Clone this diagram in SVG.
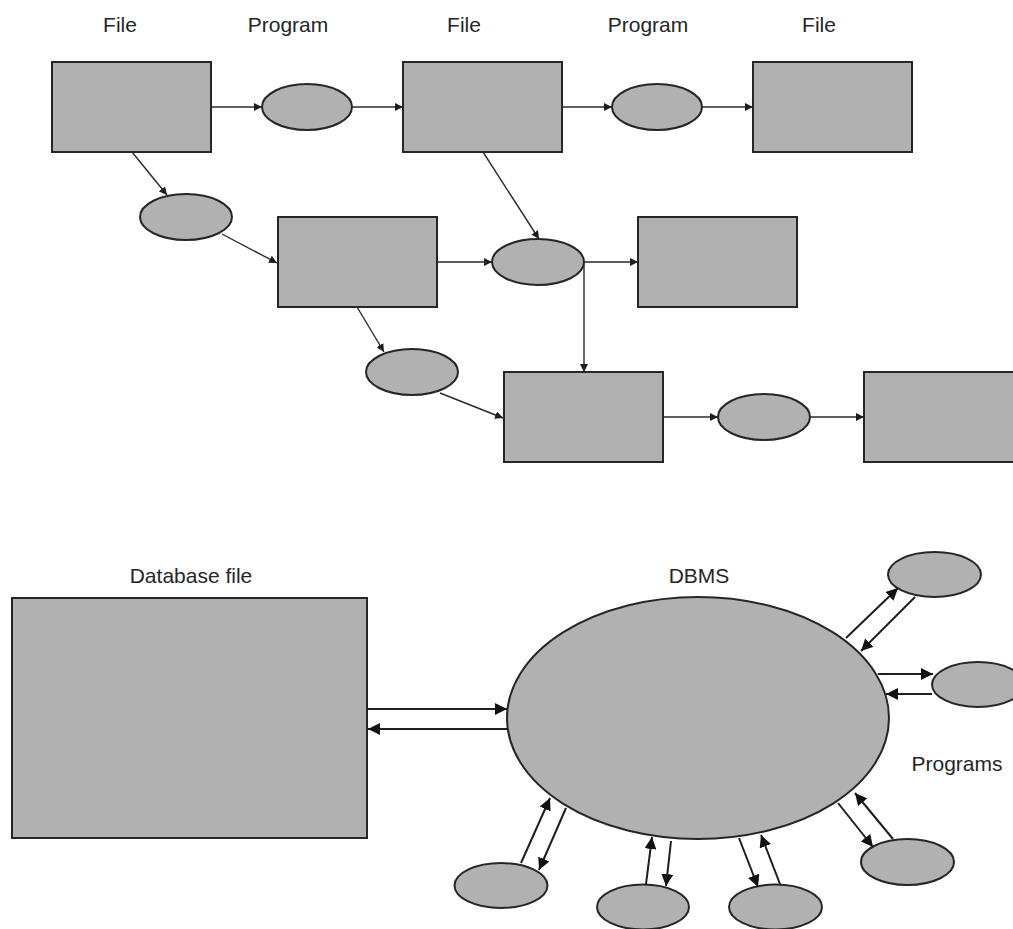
<svg xmlns="http://www.w3.org/2000/svg" width="1013" height="929" viewBox="0 0 1013 929">
  <style>
    .box { fill: #b1b1b1; stroke: #262626; stroke-width: 2; }
    .prog { fill: #b1b1b1; stroke: #262626; stroke-width: 2; }
    .flow { fill: none; stroke: #2a2a2a; stroke-width: 1.4; marker-end: url(#tip); }
    .link { fill: none; stroke: #1e1e1e; stroke-width: 2; marker-end: url(#tipBig); }
    .label { font-family: "Liberation Sans", Arial, sans-serif; font-size: 21px; fill: #262626; text-anchor: middle; }
  </style>
  <defs>
    <marker id="tip" markerUnits="userSpaceOnUse" viewBox="0 0 8 8" refX="8" refY="4" markerWidth="8" markerHeight="8" orient="auto">
      <path d="M0,0 L8,4 L0,8 z" fill="#1e1e1e"/>
    </marker>
    <marker id="tipBig" markerUnits="userSpaceOnUse" viewBox="0 0 12 12" refX="12" refY="6" markerWidth="12" markerHeight="12" orient="auto">
      <path d="M0,0 L12,6 L0,12 z" fill="#111"/>
    </marker>
  </defs>

  <!-- column headings of the file-processing chain -->
  <g id="headings">
    <text class="label" x="120" y="32">File</text>
    <text class="label" x="288" y="32">Program</text>
    <text class="label" x="464" y="32">File</text>
    <text class="label" x="648" y="32">Program</text>
    <text class="label" x="819" y="32">File</text>
  </g>

  <!-- file-processing chain -->
  <g id="file1"><rect class="box" x="52" y="62" width="159" height="90"/></g>
  <g id="prog1"><ellipse class="prog" cx="307" cy="107" rx="45" ry="23"/></g>
  <g id="file2"><rect class="box" x="403" y="62" width="159" height="90"/></g>
  <g id="prog2"><ellipse class="prog" cx="657" cy="107" rx="45" ry="23"/></g>
  <g id="file3"><rect class="box" x="753" y="62" width="159" height="90"/></g>

  <g id="prog3"><ellipse class="prog" cx="186" cy="217" rx="46" ry="23"/></g>
  <g id="file4"><rect class="box" x="278" y="217" width="159" height="90"/></g>
  <g id="prog4"><ellipse class="prog" cx="538" cy="262" rx="46" ry="23"/></g>
  <g id="file5"><rect class="box" x="638" y="217" width="159" height="90"/></g>

  <g id="prog5"><ellipse class="prog" cx="412" cy="372" rx="46" ry="23"/></g>
  <g id="file6"><rect class="box" x="504" y="372" width="159" height="90"/></g>
  <g id="prog6"><ellipse class="prog" cx="764" cy="417" rx="46" ry="23"/></g>
  <g id="file7"><rect class="box" x="864" y="372" width="159" height="90"/></g>

  <g id="chain-connectors">
    <line class="flow" x1="211" y1="107" x2="262" y2="107"/>
    <line class="flow" x1="352" y1="107" x2="403" y2="107"/>
    <line class="flow" x1="562" y1="107" x2="612" y2="107"/>
    <line class="flow" x1="702" y1="107" x2="753" y2="107"/>
    <line class="flow" x1="132" y1="152" x2="167" y2="195"/>
    <line class="flow" x1="222" y1="234" x2="277" y2="263"/>
    <line class="flow" x1="483" y1="152" x2="539" y2="239"/>
    <line class="flow" x1="437" y1="262" x2="492" y2="262"/>
    <line class="flow" x1="584" y1="262" x2="638" y2="262"/>
    <line class="flow" x1="584" y1="262" x2="584" y2="372"/>
    <line class="flow" x1="357" y1="307" x2="384" y2="352"/>
    <line class="flow" x1="440" y1="393" x2="503" y2="418"/>
    <line class="flow" x1="663" y1="417" x2="718" y2="417"/>
    <line class="flow" x1="810" y1="417" x2="864" y2="417"/>
  </g>

  <!-- database approach -->
  <g id="db-headings">
    <text class="label" x="191" y="583">Database file</text>
    <text class="label" x="699" y="583">DBMS</text>
    <text class="label" x="957" y="771">Programs</text>
  </g>

  <g id="dbfile"><rect class="box" x="12" y="598" width="355" height="240"/></g>
  <g id="dbms"><ellipse class="prog" cx="698" cy="718" rx="191" ry="121"/></g>

  <g id="app1"><ellipse class="prog" cx="934.5" cy="574.5" rx="46.5" ry="22.5"/></g>
  <g id="app2"><ellipse class="prog" cx="978" cy="684.5" rx="46" ry="22.5"/></g>
  <g id="app3"><ellipse class="prog" cx="907.5" cy="862" rx="46.5" ry="23"/></g>
  <g id="app4"><ellipse class="prog" cx="775.5" cy="907" rx="46.5" ry="22.5"/></g>
  <g id="app5"><ellipse class="prog" cx="643" cy="907" rx="46" ry="22.5"/></g>
  <g id="app6"><ellipse class="prog" cx="501" cy="885.5" rx="46.5" ry="22.5"/></g>

  <g id="db-connectors">
    <line class="link" x1="367" y1="709" x2="507" y2="709"/>
    <line class="link" x1="507" y1="729" x2="368" y2="729"/>

    <line class="link" x1="846" y1="638" x2="898" y2="588"/>
    <line class="link" x1="915" y1="597" x2="861" y2="651"/>

    <line class="link" x1="878" y1="674" x2="933" y2="674"/>
    <line class="link" x1="932" y1="694" x2="886" y2="694"/>

    <line class="link" x1="838" y1="803" x2="873" y2="847"/>
    <line class="link" x1="893" y1="839" x2="855" y2="793"/>

    <line class="link" x1="739" y1="838" x2="758" y2="887"/>
    <line class="link" x1="780" y1="884" x2="761" y2="835"/>

    <line class="link" x1="646" y1="884" x2="652" y2="837"/>
    <line class="link" x1="671" y1="841" x2="666" y2="886"/>

    <line class="link" x1="521" y1="863" x2="550" y2="798"/>
    <line class="link" x1="566" y1="808" x2="539" y2="870"/>
  </g>
</svg>
